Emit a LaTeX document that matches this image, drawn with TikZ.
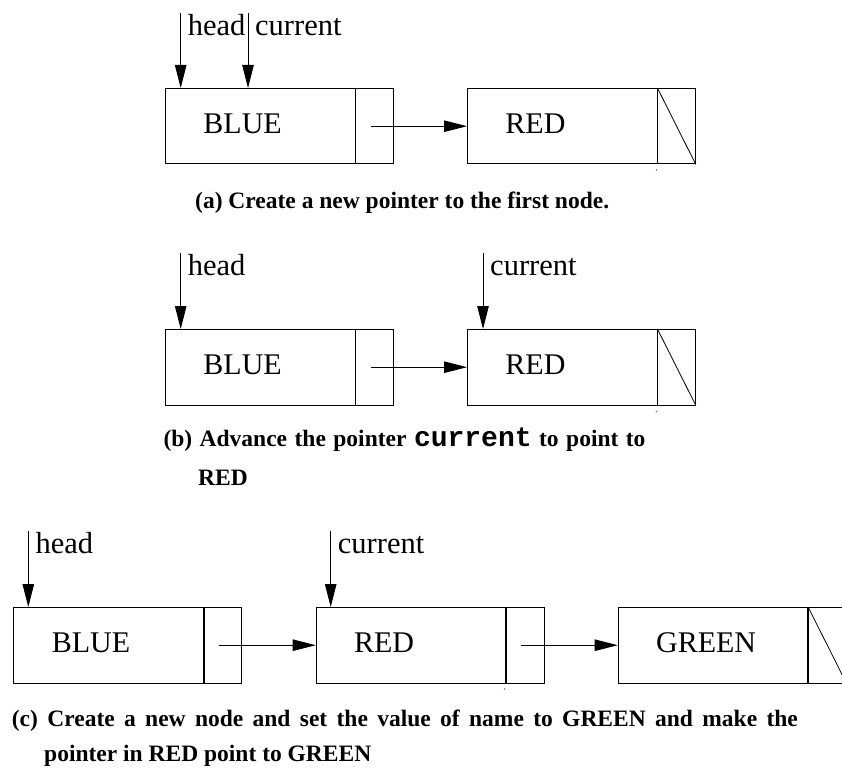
\documentclass[tikz,border=0pt]{standalone}
\usepackage{fontspec}
\setmainfont{Liberation Serif}
\newfontfamily\codefont{Liberation Mono}
\usetikzlibrary{arrows.meta}

\begin{document}
\begin{tikzpicture}[x=1pt,y=-1pt,
  every node/.style={inner sep=0pt},
  datacell/.style={draw, line width=0.9pt, anchor=north west,
    minimum width=189.5pt, minimum height=75.5pt,
    text width=113.5pt, inner xsep=38pt, inner ysep=0pt, align=left,
    font=\fontsize{30}{36}\selectfont, text height=20pt, text depth=5pt},
  linkcell/.style={draw, line width=0.9pt, anchor=west,
    minimum width=37.5pt, minimum height=75.5pt},
  nullmark/.style={line width=0.8pt},
  ptr/.style={line width=0.8pt, -{Triangle[length=23pt,width=11.5pt]}},
  ptrname/.style={anchor=base west, font=\fontsize{30.5}{36}\selectfont},
  caption/.style={anchor=base west, font=\fontsize{23.5}{28}\selectfont\bfseries},
  speck/.style={fill=black!55, draw=none, circle, minimum size=1.6pt}
]
\useasboundingbox (0,0) rectangle (842,770);
\begin{scope}
\clip (0,0) rectangle (842,770);

% ---------- (a) ----------
\node[datacell] (a1) at (165,88) {BLUE};
\node[linkcell] (a1p) at (a1.east) {};
\node[datacell] (a2) at (467,88) {RED};
\node[linkcell] (a2p) at (a2.east) {};
\draw[nullmark] (a2p.north west) -- (a2p.south east);
\draw[ptr] ([xshift=-4pt]a1p.center) -- (a2.west);

\coordinate (ahead) at (180.7,12.7);
\coordinate (acur) at (248,12.7);
\draw[ptr] (ahead) -- (ahead |- a1.north);
\draw[ptr] (acur) -- (acur |- a1.north);
\node[ptrname] (aheadl) at ([xshift=7pt,yshift=-22.4pt]ahead) {head};
\node[ptrname] (acurl) at ([xshift=7pt,yshift=-22.4pt]acur) {current};
\node[speck] (adot) at (656.5,170) {};

\node[caption] (capa) at (195,208) {(a) Create a new pointer to the first node.};

% ---------- (b) ----------
\node[datacell] (b1) at (165,329) {BLUE};
\node[linkcell] (b1p) at (b1.east) {};
\node[datacell] (b2) at (467,329) {RED};
\node[linkcell] (b2p) at (b2.east) {};
\draw[nullmark] (b2p.north west) -- (b2p.south east);
\draw[ptr] ([xshift=-4pt]b1p.center) -- (b2.west);

\coordinate (bhead) at (180.7,253.3);
\coordinate (bcur) at (483,253.3);
\draw[ptr] (bhead) -- (bhead |- b1.north);
\draw[ptr] (bcur) -- (bcur |- b2.north);
\node[ptrname] (bheadl) at ([xshift=7pt,yshift=-22.4pt]bhead) {head};
\node[ptrname] (bcurl) at ([xshift=7pt,yshift=-22.4pt]bcur) {current};
\node[speck] (bdot) at (656.5,411.5) {};

\node[caption] (capb1) at (163.3,446) {\makebox[482pt][s]{(b) Advance the pointer {\codefont\fontsize{28}{30}\selectfont current} to point to}};
\node[caption] (capb2) at (198,485) {RED};

% ---------- (c) ----------
\node[datacell] (c1) at (13.3,607) {BLUE};
\node[linkcell] (c1p) at (c1.east) {};
\node[datacell] (c2) at (315.7,607) {RED};
\node[linkcell] (c2p) at (c2.east) {};
\node[datacell] (c3) at (617.7,607) {GREEN};
\node[linkcell] (c3p) at (c3.east) {};
\draw[nullmark] (c3p.north west) -- (c3p.south east);
\draw[ptr] ([xshift=-4pt]c1p.center) -- (c2.west);
\draw[ptr] ([xshift=-4pt]c2p.center) -- (c3.west);

\coordinate (chead) at (28.3,531);
\coordinate (ccur) at (330.7,531);
\draw[ptr] (chead) -- (chead |- c1.north);
\draw[ptr] (ccur) -- (ccur |- c2.north);
\node[ptrname] (cheadl) at ([xshift=7pt,yshift=-22.4pt]chead) {head};
\node[ptrname] (ccurl) at ([xshift=7pt,yshift=-22.4pt]ccur) {current};
\node[speck] (cdot) at (504.5,689) {};

\node[caption] (capc1) at (11.7,726) {\makebox[786pt][s]{(c) Create a new node and set the value of name to GREEN and make the}};
\node[caption] (capc2) at (44,761) {pointer in RED point to GREEN};
\end{scope}
\end{tikzpicture}
\end{document}
